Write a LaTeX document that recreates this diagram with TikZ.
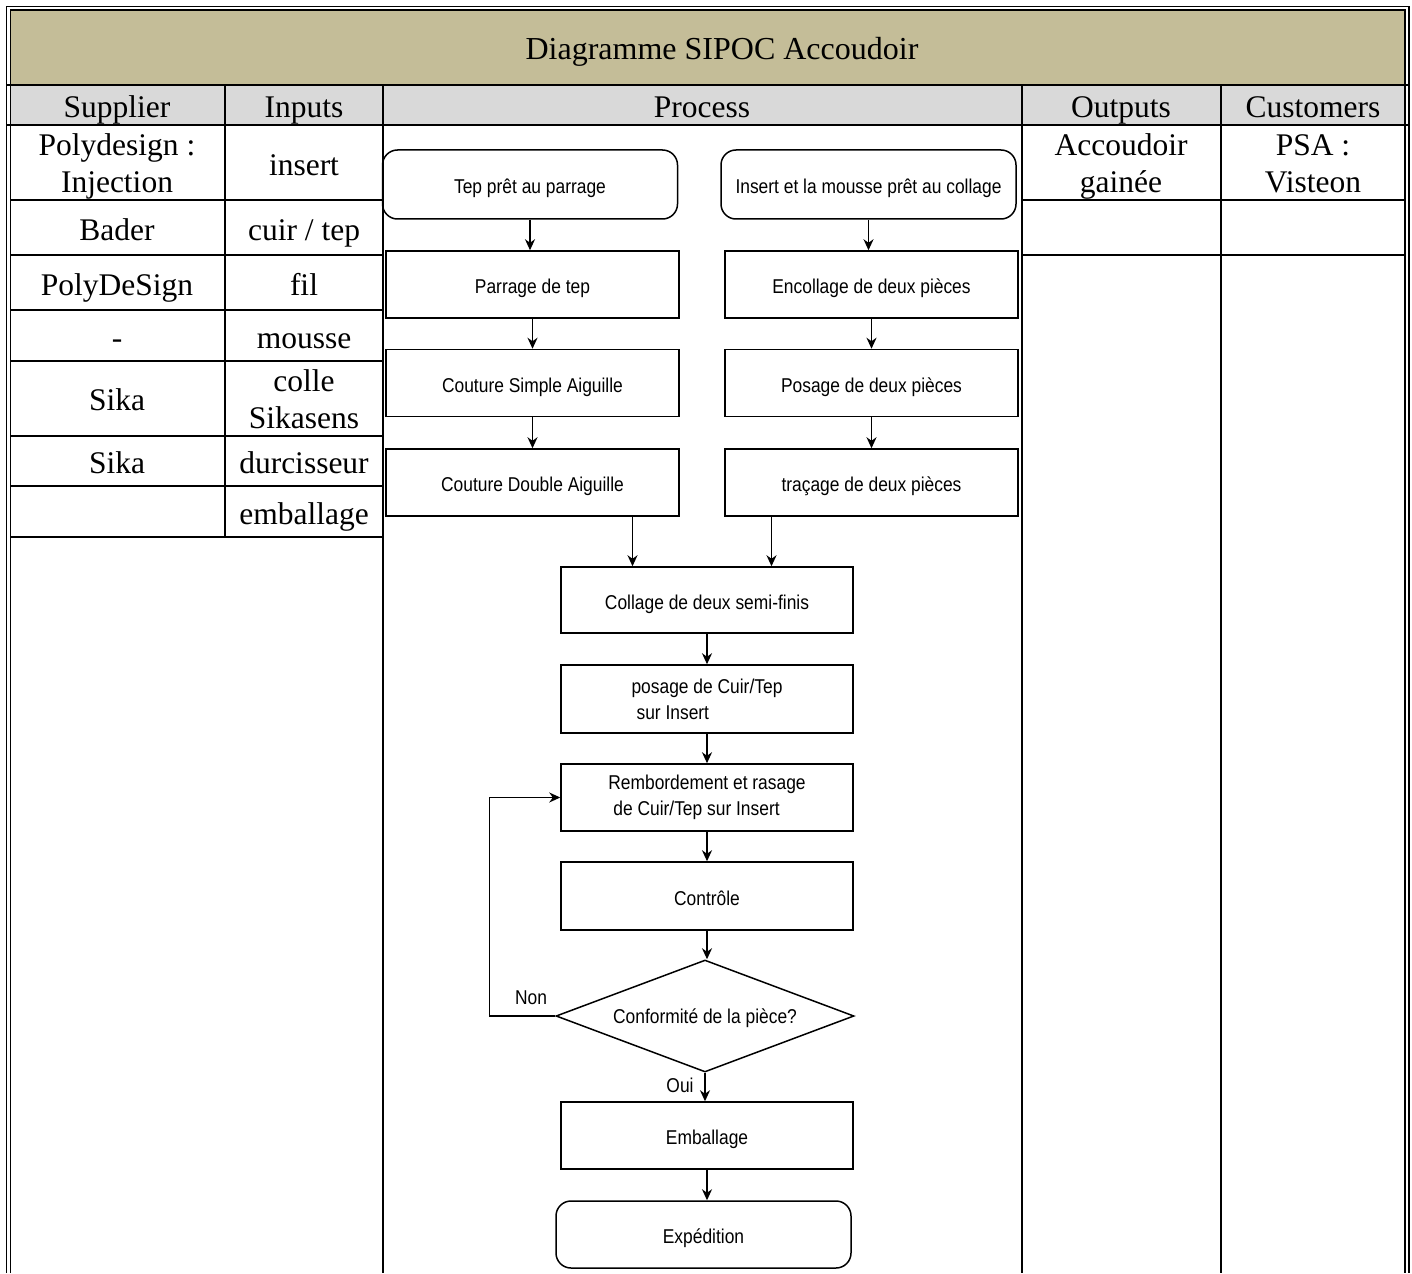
\documentclass[tikz,border=0pt]{standalone}
\usepackage{fontspec}
\setmainfont{Liberation Serif}
\newfontfamily\procfont[FakeStretch=0.87]{Liberation Sans}
\usetikzlibrary{arrows.meta,shapes.geometric}
\definecolor{titletan}{RGB}{196,189,152}
\definecolor{headgray}{RGB}{217,217,217}

\begin{document}
\begin{tikzpicture}[x=1pt,y=-1pt,
  grid/.style={line width=2.6pt},
  frame/.style={line width=1.7pt},
  cellbase/.style={font=\fontsize{31.5}{37}\selectfont, align=center, inner sep=0pt},
  cell/.style={cellbase, text height=21pt, text depth=0pt},
  boxbase/.style={draw, line width=1.5pt, minimum width=293pt, minimum height=67pt,
    inner sep=0pt, font=\procfont\fontsize{20}{26}\selectfont, align=center},
  procbox/.style={boxbase, text height=20pt, text depth=2pt},
  termbox/.style={procbox, rounded corners=15pt, minimum width=295pt, minimum height=69pt},
  decision/.style={draw, diamond, aspect=2.66, line width=1.5pt, minimum width=298pt,
    minimum height=112pt, inner sep=0pt, text height=16pt, text depth=2pt,
    font=\procfont\fontsize{20}{26}\selectfont},
  arr/.style={line width=1.5pt, -{Stealth[length=11pt,width=10pt,inset=3.5pt]}},
  lbl/.style={font=\procfont\fontsize{20}{24}\selectfont, inner sep=0pt,
    text height=14.5pt, text depth=0pt}]

\useasboundingbox (0,0) rectangle (1412,1273);
\fill[white] (0,0) rectangle (1412,1273);

% title band and header row
\fill[titletan] (10,10) rectangle (1405,85);
\fill[headgray] (10,85) rectangle (1405,125);

% double frame
\draw[frame] (6.5,1273) -- (6.5,6.5) -- (1409,6.5) -- (1409,1273);
\draw[frame] (10.5,1273) -- (10.5,10) -- (1405,10) -- (1405,1273);

% table rules
\draw[grid] (6,85) -- (1409,85);
\draw[grid] (6,125) -- (1409,125);
\foreach \yy in {200,255,310,361,436,486,537}
  \draw[grid] (10,\yy) -- (383,\yy);
\foreach \yy in {200,255}
  \draw[grid] (1022,\yy) -- (1405,\yy);
\draw[grid] (225,85) -- (225,537);
\draw[grid] (383,85) -- (383,1273);
\draw[grid] (1022,85) -- (1022,1273);
\draw[grid] (1221,85) -- (1221,1273);

% title and column heads
\node[cell, font=\fontsize{32}{37}\selectfont] (title) at (722,49) {Diagramme SIPOC Accoudoir};
\node[cell] (hs) at (117,107) {Supplier};
\node[cell] (hi) at (304,107) {Inputs};
\node[cell] (hp) at (702,107) {Process};
\node[cell] (ho) at (1121,107) {Outputs};
\node[cell] (hc) at (1313,107) {Customers};

% suppliers and inputs
\node[cellbase] (s1) at (117,166) {Polydesign :\\Injection};
\node[cell] (i1) at (304,165) {insert};
\node[cell] (s2) at (117,230) {Bader};
\node[cell] (i2) at (304,230) {cuir / tep};
\node[cell] (s3) at (117,285) {PolyDeSign};
\node[cell] (i3) at (304,285) {fil};
\node[cell] (s4) at (117,338) {-};
\node[cell] (i4) at (304,338) {mousse};
\node[cell] (s5) at (117,400) {Sika};
\node[cellbase] (i5) at (304,399) {colle\\Sikasens};
\node[cell] (s6) at (117,463) {Sika};
\node[cell] (i6) at (304,463) {durcisseur};
\node[cell] (i7) at (304,514) {emballage};

% outputs and customers
\node[cellbase] (o1) at (1121,166) {Accoudoir\\gainée};
\node[cellbase] (c1) at (1313,164) {PSA :\\Visteon};

% process flow
\node[termbox] (tep) at (530,184.5) {Tep prêt au parrage};
\node[termbox] (ins) at (868.5,184.5) {Insert et la mousse prêt au collage};
\node[procbox] (parr) at (532.5,284.5) {Parrage de tep};
\node[procbox] (enc) at (871.5,284.5) {Encollage de deux pièces};
\node[procbox] (csa) at (532.5,383) {Couture Simple Aiguille};
\node[procbox] (pos) at (871.5,383) {Posage de deux pièces};
\node[procbox] (cda) at (532.5,482.5) {Couture Double Aiguille};
\node[procbox] (tra) at (871.5,482.5) {traçage de deux pièces};
\node[procbox, minimum width=292pt, minimum height=66pt] (coll) at (707,600) {Collage de deux semi-finis};
\node[boxbase, align=left, minimum width=292pt, minimum height=68pt] (posc) at (707,699) {posage de Cuir/Tep\\\hspace{5pt}sur Insert};
\node[boxbase, align=left, minimum width=292pt, minimum height=67pt] (remb) at (707,797.5) {Rembordement et rasage\\\hspace{5pt}de Cuir/Tep sur Insert};
\node[procbox, minimum width=292pt, minimum height=68pt] (ctrl) at (707,896) {Contrôle};
\node[decision] (conf) at (705,1016) {Conformité de la pièce?};
\node[procbox, minimum width=292pt, minimum height=67pt] (emb) at (707,1135.5) {Emballage};
\node[termbox, minimum height=67pt] (exp) at (703.5,1234.5) {Expédition};

\node[lbl] (non) at (531,997) {Non};
\node[lbl] (oui) at (680,1085) {Oui};

% connectors
\draw[arr] (tep.south) -- (tep.south |- parr.north);
\draw[arr] (parr.south) -- (csa.north);
\draw[arr] (csa.south) -- (cda.north);
\draw[arr] (ins.south) -- (ins.south |- enc.north);
\draw[arr] (enc.south) -- (pos.north);
\draw[arr] (pos.south) -- (tra.north);
\draw[arr] ([xshift=100pt]cda.south) -- ([xshift=100pt]cda.south |- coll.north);
\draw[arr] ([xshift=-100pt]tra.south) -- ([xshift=-100pt]tra.south |- coll.north);
\draw[arr] (coll.south) -- (posc.north);
\draw[arr] (posc.south) -- (remb.north);
\draw[arr] (remb.south) -- (ctrl.north);
\draw[arr] (ctrl.south) -- (ctrl.south |- conf.north);
\draw[arr] (conf.south) -- (conf.south |- emb.north);
\draw[arr] (emb.south) -- (emb.south |- exp.north);
\draw[arr] (conf.west) -- ++(-66,0) |- (remb.west);

\end{tikzpicture}
\end{document}
